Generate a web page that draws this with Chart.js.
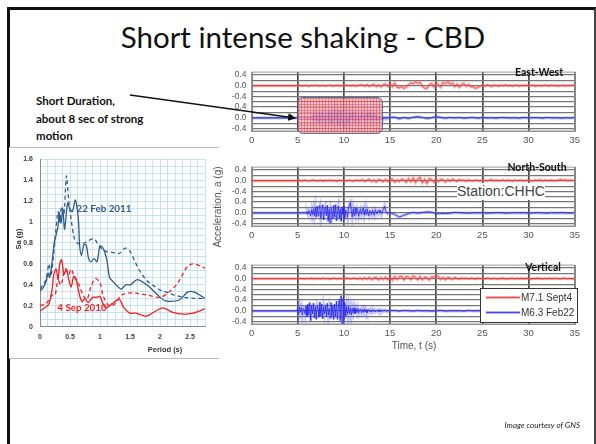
<!DOCTYPE html>
<html>
<head>
<meta charset="utf-8">
<script src="https://cdn.jsdelivr.net/npm/chart.js@4.4.1/dist/chart.umd.min.js"></script>
<style>
  body { margin: 0; width: 596px; height: 444px; overflow: hidden; background: #fff; position: relative; font-family: Lato, "Liberation Sans", sans-serif; }
  .abs { position: absolute; white-space: nowrap; }
  #frame { left: 7px; top: 7px; width: 584px; height: 460px; border-left: 3px solid #111; border-top: 3px solid #111; border-right: 2px solid #444; }
  #title { left: 0; width: 606px; top: 19px; text-align: center; font-size: 29.5px; color: #111; }
  #note { left: 36px; top: 92px; font-size: 11.5px; font-weight: bold; line-height: 17.5px; color: #111; }
  #specBox { left: 9px; top: 147px; width: 210px; height: 210px; border-top: 1px solid #bbb; border-bottom: 1px solid #bbb; background: #fff; }
  #spectrum { left: 9px; top: 148px; }
  .ew, .ns, .vt { left: 212px; }
  .panelName { font-weight: bold; font-size: 10.5px; color: #111; transform: translate(-50%, -50%); }
  .axisTxt { font-family: "Liberation Sans", Arial, sans-serif; color: #555; font-size: 10px; transform: translate(-50%, -50%); }
  .specTxt { font-family: "Liberation Sans", Arial, sans-serif; font-weight: bold; font-size: 7.5px; color: #333; transform: translate(-50%, -50%); }
  .tag { font-weight: bold; font-size: 9.8px; transform: translate(-50%, -50%); }
  #shortBox { left: 297px; top: 97px; width: 84px; height: 35px; border: 1.5px solid #35507a; border-radius: 6px; opacity: 0.78;
    background-color: #f5b3b9;
    background-image: linear-gradient(rgba(215,40,60,0.55) 1px, transparent 1px), linear-gradient(90deg, rgba(215,40,60,0.55) 1px, transparent 1px);
    background-size: 3px 3px; }
  #station { left: 457px; top: 183px; font-family: "Liberation Sans", Arial, sans-serif; font-size: 14px; color: #444; background: #fff; line-height: 17px; }
  #legend { left: 480px; top: 288px; width: 96px; height: 33px; background: #fff; border: 1px solid #333; font-family: "Liberation Sans", Arial, sans-serif; font-size: 10px; color: #333; }
  #credit { right: 16px; top: 420px; font-style: italic; font-size: 8px; color: #222; }
</style>
</head>
<body>
<div id="frame" class="abs"></div>
<div id="title" class="abs">Short intense shaking - CBD</div>
<div id="note" class="abs">Short Duration,<br>about 8 sec of strong<br>motion</div>

<div id="specBox" class="abs"></div>
<canvas id="spectrum" class="abs" width="202" height="210"></canvas>
<div class="abs tag" style="left:104px;top:208px;color:#2f5b8f">22 Feb 2011</div>
<div class="abs tag" style="left:82px;top:307px;color:#ff1a1a">4 Sep 2010</div>
<div class="abs specTxt" style="left:165px;top:349px">Period (s)</div>
<div class="abs specTxt" style="left:18px;top:239px;transform:translate(-50%,-50%) rotate(-90deg)">Sa (g)</div>

<canvas id="ew" class="abs ew" style="top:62px" width="372" height="87"></canvas>
<canvas id="ns" class="abs ns" style="top:157px" width="372" height="87"></canvas>
<canvas id="vt" class="abs vt" style="top:255px" width="372" height="87"></canvas>

<div id="shortBox" class="abs"></div>
<svg class="abs" style="left:0;top:0" width="596" height="444">
  <defs><marker id="head" markerWidth="8" markerHeight="8" refX="7" refY="4" orient="auto" markerUnits="userSpaceOnUse">
    <path d="M0,0 L8,4 L0,8 z" fill="#111"/></marker></defs>
  <line x1="130" y1="95" x2="295" y2="118" stroke="#111" stroke-width="1.5" marker-end="url(#head)"/>
</svg>

<div class="abs panelName" style="left:539px;top:72px">East-West</div>
<div class="abs panelName" style="left:537px;top:167px">North-South</div>
<div class="abs panelName" style="left:543px;top:267px">Vertical</div>
<div id="station" class="abs">Station:CHHC</div>
<div id="legend" class="abs">
  <svg class="abs" style="left:0;top:0" width="96" height="33">
    <line x1="5" y1="8.5" x2="39" y2="8.5" stroke="rgba(255,80,80,0.45)" stroke-width="3"/>
    <line x1="5" y1="8.5" x2="39" y2="8.5" stroke="#ff2a2a" stroke-width="0.8"/>
    <line x1="5" y1="23.5" x2="39" y2="23.5" stroke="rgba(80,80,255,0.45)" stroke-width="3"/>
    <line x1="5" y1="23.5" x2="39" y2="23.5" stroke="#2a2aff" stroke-width="0.8"/>
  </svg>
  <div class="abs" style="left:40px;top:3px">M7.1 Sept4</div>
  <div class="abs" style="left:40px;top:18px">M6.3 Feb22</div>
</div>
<div class="abs axisTxt" style="left:217px;top:207px;transform:translate(-50%,-50%) rotate(-90deg)">Acceleration, a (g)</div>
<div class="abs axisTxt" style="left:414px;top:345px">Time, t (s)</div>
<div id="credit" class="abs">Image courtesy of  GNS</div>

<script>
// --- response spectra (Sa in g against period in s) ---
const PERIOD_FEB_A = [0, 0.05, 0.1, 0.135, 0.16, 0.19, 0.24, 0.27, 0.3, 0.32, 0.35, 0.38, 0.41, 0.46, 0.5, 0.54, 0.59, 0.64, 0.66, 0.69, 0.73, 0.77, 0.81, 0.85, 0.9, 0.95, 1.0, 1.05, 1.11, 1.16, 1.22, 1.35, 1.43, 1.51, 1.62, 1.78, 1.95, 2.08, 2.32, 2.46, 2.57, 2.75];
const SA_FEB_A = [0.34, 0.37, 0.43, 0.51, 0.47, 0.56, 0.81, 0.88, 0.96, 1.09, 0.99, 1.12, 0.93, 1.18, 1.12, 1.10, 1.21, 1.02, 0.78, 0.68, 0.78, 0.78, 0.65, 0.62, 0.65, 0.62, 0.77, 0.75, 0.65, 0.47, 0.43, 0.36, 0.40, 0.40, 0.45, 0.40, 0.31, 0.25, 0.255, 0.33, 0.33, 0.27];
const PERIOD_FEB_B = [0, 0.05, 0.1, 0.15, 0.18, 0.22, 0.26, 0.3, 0.33, 0.36, 0.4, 0.44, 0.48, 0.52, 0.57, 0.62, 0.7, 0.8, 0.9, 1.0, 1.1, 1.2, 1.32, 1.42, 1.5, 1.6, 1.7, 1.8, 1.9, 2.0, 2.1, 2.25, 2.4, 2.6, 2.75];
const SA_FEB_B = [0.36, 0.40, 0.45, 0.60, 0.48, 0.65, 0.90, 1.10, 1.00, 1.15, 1.08, 1.44, 1.20, 1.02, 0.85, 0.80, 0.79, 0.82, 0.84, 0.76, 0.72, 0.71, 0.70, 0.75, 0.72, 0.60, 0.50, 0.43, 0.39, 0.35, 0.33, 0.30, 0.28, 0.27, 0.27];
const PERIOD_SEP_A = [0, 0.08, 0.15, 0.2, 0.23, 0.27, 0.3, 0.33, 0.36, 0.4, 0.44, 0.48, 0.52, 0.56, 0.6, 0.65, 0.7, 0.75, 0.8, 0.88, 0.95, 1.0, 1.05, 1.1, 1.2, 1.32, 1.4, 1.5, 1.6, 1.7, 1.78, 1.9, 2.05, 2.2, 2.4, 2.55, 2.75];
const SA_SEP_A = [0.15, 0.18, 0.22, 0.35, 0.50, 0.55, 0.45, 0.60, 0.64, 0.50, 0.55, 0.45, 0.38, 0.48, 0.46, 0.32, 0.24, 0.27, 0.23, 0.28, 0.28, 0.29, 0.22, 0.18, 0.22, 0.26, 0.18, 0.13, 0.13, 0.11, 0.10, 0.14, 0.18, 0.14, 0.12, 0.13, 0.17];
const PERIOD_SEP_B = [0, 0.1, 0.2, 0.25, 0.3, 0.35, 0.42, 0.48, 0.52, 0.57, 0.65, 0.72, 0.78, 0.85, 0.92, 1.0, 1.05, 1.15, 1.25, 1.35, 1.45, 1.6, 1.8, 2.0, 2.15, 2.3, 2.45, 2.55, 2.75];
const SA_SEP_B = [0.20, 0.22, 0.30, 0.30, 0.44, 0.40, 0.55, 0.50, 0.55, 0.48, 0.40, 0.30, 0.26, 0.38, 0.46, 0.42, 0.30, 0.20, 0.22, 0.30, 0.32, 0.32, 0.30, 0.28, 0.33, 0.42, 0.57, 0.60, 0.56];
const PERIOD_TICKS = [0, 0.5, 1, 1.5, 2, 2.5];
const PERIOD_LABELS = ['0', '0.5', '1', '1.5', '2', '2.5'];
const SA_TICKS = [0, 0.2, 0.4, 0.6, 0.8, 1, 1.2, 1.4, 1.6];
const SA_LABELS = ['0', '0.2', '0.4', '0.6', '0.8', '1', '1.2', '1.4', '1.6'];

// --- acceleration records (g), Sept4 sampled every 0.25 s from 5 s ---
const PRE_EVENT_T = [0, 4.9];
const PRE_EVENT_A = [0, 0];
const EW_SEPT4 = [0,.01,-.01,.01,0,-.02,.01,0,.02,-.01,0,.01,-.02,.01,.02,-.01,0,.02,-.01,.01,-.02,.02,.01,-.01,.02,-.02,.01,.02,
  .03,-.02,.04,-.03,.02,.05,-.04,.03,-.05,.04,.06,-.03,
  .08,-.04,.1,-.06,-.08,-.03,-.1,-.06,
  .04,.1,.06,.15,.08,.12,-.02,-.09,
  -.1,.04,.08,-.05,.1,.03,-.06,.12,.06,.15,.05,.1,
  -.04,.06,-.06,.04,.08,-.02,.05,-.05,-.04,-.1,-.06,-.03,
  .02,-.02,.03,.01,-.03,.02,.01,-.02,.02,0,.03,-.01,.02,-.02,.01,.02,-.02,.01,0,.02,-.01,.01,.02,-.02,.01,0,-.01,.02,.01,-.01,.02,0,.01,-.02,.01,.02,-.01,.01,0,.02,.01];
const NS_SEPT4 = [0,.01,-.01,.02,0,-.01,.01,.02,-.01,0,.02,-.02,.01,0,.02,-.01,.01,-.02,.02,0,.01,-.01,.02,.01,-.02,.01,.02,-.01,
  .04,-.03,.02,.05,-.04,.03,-.05,.04,.02,-.04,.05,-.03,.04,.06,-.05,.03,-.04,.06,.02,-.06,
  .08,-.04,.1,-.07,.06,.12,-.08,.05,-.1,.08,.04,-.06,
  .06,-.04,.05,.03,-.05,.04,-.02,.05,.02,-.03,.04,.01,
  .02,-.02,.03,0,-.01,.02,.01,-.02,.03,.01,-.01,.02,.04,-.01,.02,0,.01,.02,-.01,.02,.01,-.02,.02,0,.01,.02,-.01,.01,.02,0,-.01,.02,.01,.03,-.01,.02,.01,0,.02,-.01,.01,.02,.04,.01,.03,-.01,.02,.01,0];
const VT_SEPT4 = [0,.01,0,-.01,.01,0,.02,-.01,0,.01,-.01,.02,0,.01,-.02,.01,.02,-.01,.01,0,-.02,.02,.01,-.01,.02,.01,-.02,.03,
  -.03,.04,-.02,.05,-.04,.03,.05,-.05,.04,-.03,.06,-.04,
  .05,-.06,.08,-.03,.07,.09,-.05,.08,.06,-.04,.1,.05,
  -.05,.08,-.04,.06,.03,-.05,.07,.05,.1,.08,-.03,.05,
  -.04,.05,.02,-.03,.04,.01,-.02,.03,0,.02,-.01,.02,
  .01,-.02,.02,0,.01,-.01,.02,.01,-.01,.02,0,-.01,.01,.02,-.01,0,.01,.02,-.01,.01,0,.02,-.01,.01,.01,-.02,.01,0,.02,.01,-.01,.01,0,.02,-.01,.01,.01,0,-.01,.02,.01,0,.01,-.01,.01];

// Feb22: strong part every 0.1 s from 5 s, then every 0.5 s from 15.5 s
const EW_FEB22 = [0,0,.01,0,-.01,0,.01,0,0,-.01,.01,0,0,.01,-.01,
  .05,-.08,.12,-.1,.15,-.05,.08,-.15,.1,.18,-.12,.05,.2,-.08,.1,
  -.2,.15,.05,-.1,.25,-.15,.1,.22,-.2,.05,
  .28,-.1,.15,-.25,.3,-.3,.1,.25,-.18,.2,
  -.28,.1,.22,-.15,.05,-.22,.18,-.1,.15,-.05,
  .2,-.12,.08,.15,-.1,.05,.12,-.15,.1,.02,
  .18,-.05,.08,-.12,.15,.05,-.08,.2,.1,-.05,
  .12,-.1,.05,.15,-.05,.08,-.08,.05,.02,-.03,
  .04,-.02,.03,-.04,.02,.01,-.03,.03,.01,-.02,.02];
const EW_FEB22_TAIL = [.03,-.03,.02,-.02,.03,.05,.02,-.02,.01,.05,.02,-.01,.02,0,.02,-.01,.01,.02,-.01,.02,0,.01,-.01,.02,.01,0,.01,-.01,.02,0,.01,.01,-.01,.02,0,.01,-.01,.01,0,.01];
const NS_FEB22 = [0,0,.01,0,-.01,.01,0,.01,-.01,0,
  .05,-.05,.08,.02,-.1,.12,-.06,.15,-.1,.2,
  -.15,.25,-.1,.18,.28,-.2,.05,.3,-.25,.1,
  .22,-.1,.28,-.3,.15,-.35,.2,.1,-.2,.28,
  -.15,.3,-.28,.05,.25,-.2,.15,-.3,.22,-.05,
  .25,-.2,.1,.05,-.15,.2,.3,.38,.1,-.15,
  .15,-.1,.2,-.05,.18,.1,-.12,.05,.15,-.05,
  .1,.18,-.08,.12,-.05,.15,.02,-.1,.08,.05,
  -.06,.1,.04,-.08,.12,.05,-.03,.08,.1,.02,
  .06,-.02,.1,.15,.25,.1,.02,-.03,.02,0,.01];
const NS_FEB22_TAIL = [-.05,-.15,-.08,-.02,.02,-.01,.02,.04,.03,-.03,-.02,-.02,-.01,.02,.01,0,-.01,.01,0,.01,-.01,0,.01,.01,-.01,0,.01,0,.01,-.01,0,.01,0,-.01,.01,0,.01,0,-.01,.01];
const VT_FEB22 = [.08,-.1,.15,-.05,.12,-.15,.1,.05,-.12,.18,
  -.2,.25,-.15,.3,-.35,.2,-.1,.28,-.25,.15,
  -.3,.2,.1,-.22,.32,-.18,.25,-.28,.15,-.1,
  .22,-.2,.28,-.15,.1,-.25,.3,-.18,.2,-.3,
  .25,-.2,.35,-.3,.15,.4,-.35,.55,-.5,.45,
  -.3,.3,-.2,.15,-.12,.18,-.1,.12,-.15,.1,
  -.08,.12,-.1,.08,-.06,.1,-.08,.05,.07,-.06,
  .06,-.05,.08,-.04,.05,-.06,.04,.05,-.03,.04,
  -.04,.05,-.02,.04,-.03,.03,.02,-.03,.04,-.02,
  .03,-.02,.03,-.01,.02,.03,-.02,.02,-.01,.02,.01];
const VT_FEB22_TAIL = [.02,-.01,.02,.01,-.01,.02,0,.01,-.01,.01,.02,-.01,.01,0,.01,-.01,.02,0,.01,0,-.01,.01,0,.01,0,-.01,.01,.01,0,-.01,.01,0,.01,0,-.01,.01,0,.01,0,.01];

const TIME_TICKS = [0, 5, 10, 15, 20, 25, 30, 35];
const ACC_TICKS = [0.4, 0, -0.4];
const ACC_LABELS = ['0.4', '0.0', '-0.4'];
const ACC_GRID = [0.4, 0.2, 0, -0.2, -0.4];

const RED = '#ff1a1a', BLUE = '#2f5b8f';
const ACC_OFFSET = -1.17; // Feb22 trace is drawn under the Sept4 trace

// --- helpers ---
function seg(t0, dt, vals) { return vals.map((a, i) => ({ x: t0 + i * dt, y: a })); }
function pairs(xs, ys) { return xs.map((x, i) => ({ x: x, y: ys[i] })); }
function near(a, b) { return Math.abs(a - b) < 1e-6; }

const frame = {
    id: 'frame',
    afterDraw(chart) {
        const a = chart.chartArea, ctx = chart.ctx;
        ctx.save(); ctx.strokeStyle = '#999'; ctx.lineWidth = 1;
        ctx.strokeRect(a.left, a.top, a.right - a.left, a.bottom - a.top);
        ctx.restore();
    }
};

// --- spectrum chart ---
function specSet(xs, ys, color, dash) {
    return { data: pairs(xs, ys), borderColor: color, borderWidth: 1.3, borderDash: dash, pointRadius: 0, tension: 0.3, fill: false };
}
const SPEC_FONT = { family: '"Liberation Sans", Arial, sans-serif', size: 7, weight: 'bold' };

new Chart(document.getElementById('spectrum'), {
    type: 'line',
    data: { datasets: [
        specSet(PERIOD_FEB_A, SA_FEB_A, BLUE, []),
        specSet(PERIOD_FEB_B, SA_FEB_B, BLUE, [4, 3]),
        specSet(PERIOD_SEP_A, SA_SEP_A, RED, []),
        specSet(PERIOD_SEP_B, SA_SEP_B, RED, [4, 3])
    ] },
    options: {
        responsive: false, animation: false,
        layout: { padding: { top: 7, right: 0, left: 0, bottom: 0 } },
        plugins: { legend: { display: false }, tooltip: { enabled: false } },
        scales: {
            x: {
                type: 'linear', min: 0, max: 2.75,
                afterBuildTicks: s => { s.ticks = Array.from({ length: 23 }, (_, i) => ({ value: i * 0.125 })); },
                afterFit: s => { s.height = 31.3; },
                grid: { color: '#b7dcef', lineWidth: 0.8, drawTicks: false },
                border: { color: '#8a8a8a' },
                ticks: { autoSkip: false, maxRotation: 0, padding: 6, color: '#404040', font: SPEC_FONT,
                    callback: v => { const i = PERIOD_TICKS.findIndex(t => near(t, v)); return i < 0 ? '' : PERIOD_LABELS[i]; } }
            },
            y: {
                min: 0, max: 1.6,
                afterBuildTicks: s => { s.ticks = Array.from({ length: 25 }, (_, i) => ({ value: i * 0.2 / 3 })); },
                afterFit: s => { s.width = 31; },
                grid: { color: '#b7dcef', lineWidth: 0.8, drawTicks: false },
                border: { color: '#8a8a8a' },
                ticks: { autoSkip: false, padding: 7, color: '#404040', font: SPEC_FONT,
                    callback: v => { const i = SA_TICKS.findIndex(t => near(t, v)); return i < 0 ? '' : SA_LABELS[i]; } }
            }
        }
    }
});

// --- acceleration panels ---
function accPanel(id, sept, feb) {
    const lower = feb.map(p => ({ x: p.x, y: p.y + ACC_OFFSET }));
    const yGrid = [...ACC_GRID, (ACC_GRID[4] + ACC_GRID[0] + ACC_OFFSET) / 2, ...ACC_GRID.map(v => v + ACC_OFFSET)];
    const line = (d, c, w) => ({ data: d, borderColor: c, borderWidth: w, pointRadius: 0, tension: 0, fill: false });
    new Chart(document.getElementById(id), {
        type: 'line',
        data: { datasets: [
            line(sept, 'rgba(255,90,90,0.4)', 3),
            line(lower, 'rgba(90,90,255,0.35)', 3),
            line(sept, 'rgba(255,20,20,0.9)', 0.9),
            line(lower, 'rgba(20,20,235,0.95)', 0.9)
        ] },
        options: {
            responsive: false, animation: false,
            layout: { padding: { top: 2, right: 6, left: 0, bottom: 0 } },
            plugins: { legend: { display: false }, tooltip: { enabled: false } },
            scales: {
                x: {
                    type: 'linear', min: 0, max: 35,
                    afterBuildTicks: s => { s.ticks = TIME_TICKS.map(v => ({ value: v })); },
                    afterFit: s => { s.height = 18; },
                    grid: { color: '#4a4a4a', lineWidth: 1.7, drawTicks: false },
                    border: { color: '#888' },
                    ticks: { padding: 4, color: '#555', font: { family: '"Liberation Sans", Arial, sans-serif', size: 9.5 } }
                },
                y: {
                    min: -1.64, max: 0.49,
                    afterBuildTicks: s => { s.ticks = yGrid.map(v => ({ value: v })); },
                    afterFit: s => { s.width = 39.6; },
                    grid: { color: '#777', lineWidth: 1.2, drawTicks: false },
                    border: { color: '#888' },
                    ticks: { autoSkip: false, padding: 5, color: '#555', font: { family: '"Liberation Sans", Arial, sans-serif', size: 8.5 },
                        callback: v => {
                            let i = ACC_TICKS.findIndex(t => near(t, v));
                            if (i < 0) i = ACC_TICKS.findIndex(t => near(t + ACC_OFFSET, v));
                            return i < 0 ? '' : ACC_LABELS[i];
                        } }
                }
            }
        },
        plugins: [frame]
    });
}

const lead = pairs(PRE_EVENT_T, PRE_EVENT_A);
accPanel('ew', lead.concat(seg(5, 0.25, EW_SEPT4)), lead.concat(seg(5, 0.1, EW_FEB22), seg(15.5, 0.5, EW_FEB22_TAIL)));
accPanel('ns', lead.concat(seg(5, 0.25, NS_SEPT4)), lead.concat(seg(5, 0.1, NS_FEB22), seg(15.5, 0.5, NS_FEB22_TAIL)));
accPanel('vt', lead.concat(seg(5, 0.25, VT_SEPT4)), lead.concat(seg(5, 0.1, VT_FEB22), seg(15.5, 0.5, VT_FEB22_TAIL)));
</script>
</body>
</html>
